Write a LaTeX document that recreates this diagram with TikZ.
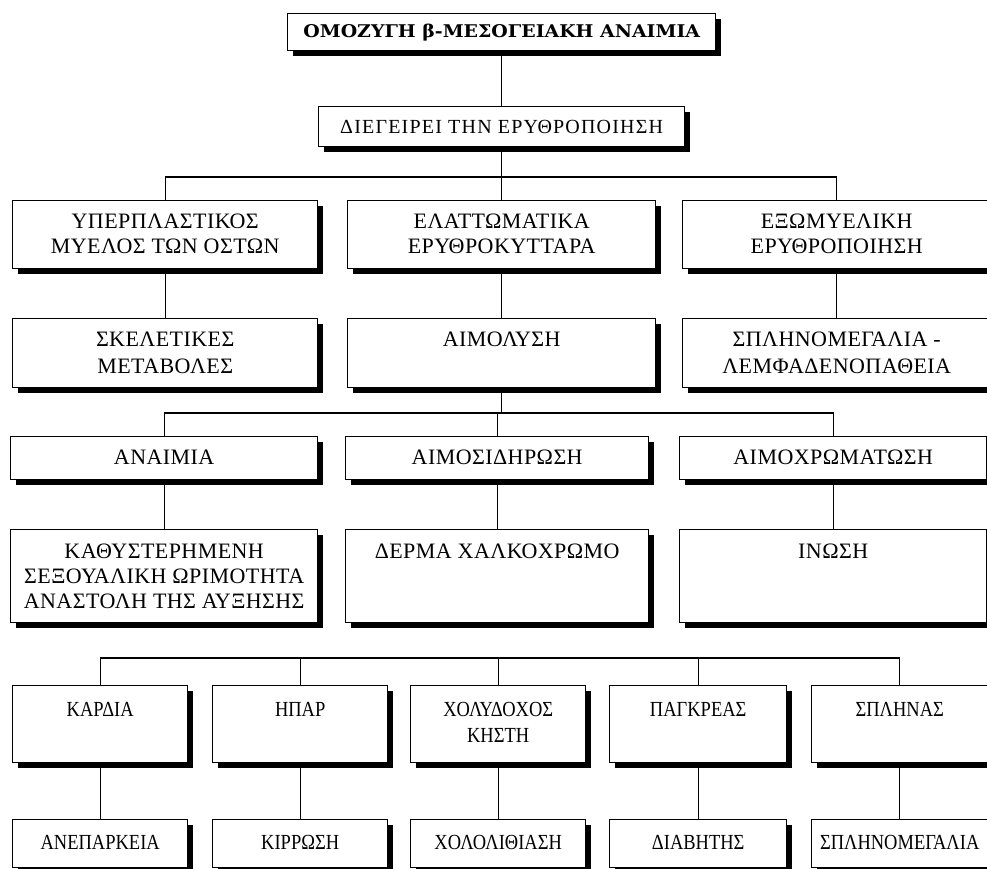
\documentclass[tikz,border=0pt]{standalone}
\usepackage{fontspec}
\setmainfont{Liberation Serif}[LetterSpace=2]
\newfontfamily\headfont[FakeStretch=1.08]{DejaVu Serif}
\newfontfamily\wideserif[LetterSpace=6]{Liberation Serif}
\newfontfamily\narrowfont[FakeStretch=0.86]{Liberation Serif}
\usetikzlibrary{shadows}

\begin{document}
\begin{tikzpicture}[line cap=round,x=1pt,y=-1pt,
  box/.style={draw,line width=1.4pt,fill=white,anchor=north west,inner sep=0pt,
    drop shadow={shadow xshift=5pt,shadow yshift=-5pt,fill=black,opacity=1}},
  txt/.style={anchor=north,align=center,inner sep=0pt,yshift=-14pt,
    font=\fontsize{22}{25}\selectfont},
  narrow/.style={txt,yshift=-3pt,font=\narrowfont\fontsize{21.5}{26}\selectfont},
  link/.style={line width=1.2pt}]
\useasboundingbox (0,0) rectangle (987,868);

\node[box,minimum width=428pt,minimum height=37pt,
  font=\headfont\bfseries\fontsize{17.5}{20}\selectfont] (thal) at (287,13) {ΟΜΟΖΥΓΗ β-ΜΕΣΟΓΕΙΑΚΗ ΑΝΑΙΜΙΑ};
\node[box,minimum width=366pt,minimum height=40pt,
  font=\wideserif\fontsize{20}{22}\selectfont] (dieg) at (318,106) {ΔΙΕΓΕΙΡΕΙ ΤΗΝ ΕΡΥΘΡΟΠΟΙΗΣΗ};

% second level
\node[box,minimum width=305pt,minimum height=68pt,label={[txt]north:ΥΠΕΡΠΛΑΣΤΙΚΟΣ\\ΜΥΕΛΟΣ ΤΩΝ ΟΣΤΩΝ}] (hyper) at (12,200) {};
\node[box,minimum width=308pt,minimum height=68pt,label={[txt]north:ΕΛΑΤΤΩΜΑΤΙΚΑ\\ΕΡΥΘΡΟΚΥΤΤΑΡΑ}] (elatt) at (347,200) {};
\node[box,minimum width=308pt,minimum height=68pt,label={[txt]north:ΕΞΩΜΥΕΛΙΚΗ\\ΕΡΥΘΡΟΠΟΙΗΣΗ}] (exo) at (682,200) {};

\node[box,minimum width=305pt,minimum height=69pt,label={[txt,font=\fontsize{22}{27}\selectfont]north:ΣΚΕΛΕΤΙΚΕΣ\\ΜΕΤΑΒΟΛΕΣ}] (skel) at (12,318) {};
\node[box,minimum width=308pt,minimum height=69pt,label={[txt]north:ΑΙΜΟΛΥΣΗ}] (aimol) at (347,318) {};
\node[box,minimum width=308pt,minimum height=69pt,label={[txt,font=\fontsize{22}{27}\selectfont]north:ΣΠΛΗΝΟΜΕΓΑΛΙΑ -\\ΛΕΜΦΑΔΕΝΟΠΑΘΕΙΑ}] (splin) at (682,318) {};

% third level
\node[box,minimum width=307pt,minimum height=43pt,label={[txt]north:ΑΝΑΙΜΙΑ}] (anaim) at (10,436) {};
\node[box,minimum width=303pt,minimum height=43pt,label={[txt]north:ΑΙΜΟΣΙΔΗΡΩΣΗ}] (aimosid) at (345,436) {};
\node[box,minimum width=307pt,minimum height=43pt,label={[txt]north:ΑΙΜΟΧΡΩΜΑΤΩΣΗ}] (aimochr) at (679,436) {};

\node[box,minimum width=307pt,minimum height=93pt,label={[txt,yshift=-1pt]north:ΚΑΘΥΣΤΕΡΗΜΕΝΗ\\ΣΕΞΟΥΑΛΙΚΗ ΩΡΙΜΟΤΗΤΑ\\ΑΝΑΣΤΟΛΗ ΤΗΣ ΑΥΞΗΣΗΣ}] (kathys) at (10,529) {};
\node[box,minimum width=303pt,minimum height=93pt,label={[txt,yshift=-1pt]north:ΔΕΡΜΑ ΧΑΛΚΟΧΡΩΜΟ}] (derma) at (345,529) {};
\node[box,minimum width=307pt,minimum height=93pt,label={[txt,yshift=-1pt]north:ΙΝΩΣΗ}] (inosi) at (679,529) {};

% organs
\node[box,minimum width=175pt,minimum height=77pt,label={[narrow]north:ΚΑΡΔΙΑ}] (kard) at (12,685) {};
\node[box,minimum width=175pt,minimum height=77pt,label={[narrow]north:ΗΠΑΡ}] (hpar) at (212,685) {};
\node[box,minimum width=175pt,minimum height=77pt,label={[narrow]north:ΧΟΛΥΔΟΧΟΣ\\ΚΗΣΤΗ}] (xolyd) at (410,685) {};
\node[box,minimum width=177pt,minimum height=77pt,label={[narrow]north:ΠΑΓΚΡΕΑΣ}] (pagkr) at (609,685) {};
\node[box,minimum width=176pt,minimum height=77pt,label={[narrow]north:ΣΠΛΗΝΑΣ}] (splinas) at (811,685) {};

\node[box,minimum width=175pt,minimum height=48pt,label={[narrow,yshift=1pt]north:ΑΝΕΠΑΡΚΕΙΑ}] (anep) at (12,819) {};
\node[box,minimum width=175pt,minimum height=48pt,label={[narrow,yshift=1pt]north:ΚΙΡΡΩΣΗ}] (kirr) at (212,819) {};
\node[box,minimum width=175pt,minimum height=48pt,label={[narrow,yshift=1pt]north:ΧΟΛΟΛΙΘΙΑΣΗ}] (xolol) at (410,819) {};
\node[box,minimum width=177pt,minimum height=48pt,label={[narrow,yshift=1pt]north:ΔΙΑΒΗΤΗΣ}] (diab) at (609,819) {};
\node[box,minimum width=176pt,minimum height=48pt,label={[narrow,yshift=1pt]north:ΣΠΛΗΝΟΜΕΓΑΛΙΑ}] (splmeg) at (811,819) {};

\coordinate (bus3) at (0,177);
\coordinate (bus5) at (0,413);
\coordinate (bus7) at (0,658);

\draw[link] (thal.south) -- (dieg.north);
\draw[link] (dieg.south) -- (elatt.north);
\draw[link] (hyper.north) |- (exo.north |- bus3) -- (exo.north);
\draw[link] (aimol.south) -- (aimol.south |- bus5);
\draw[link] (anaim.north) |- (aimochr.north |- bus5) -- (aimochr.north);
\draw[link] (aimosid.north) -- (aimosid.north |- bus5);
\draw[link] (kard.north) |- (splinas.north |- bus7) -- (splinas.north);
\foreach \n in {hpar,xolyd,pagkr}
  \draw[link] (\n.north) -- (\n.north |- bus7);
\foreach \a/\b in {hyper/skel,elatt/aimol,exo/splin,anaim/kathys,aimosid/derma,aimochr/inosi,
  kard/anep,hpar/kirr,xolyd/xolol,pagkr/diab,splinas/splmeg}
  \draw[link] (\a.south) -- (\b.north);
\end{tikzpicture}
\end{document}
